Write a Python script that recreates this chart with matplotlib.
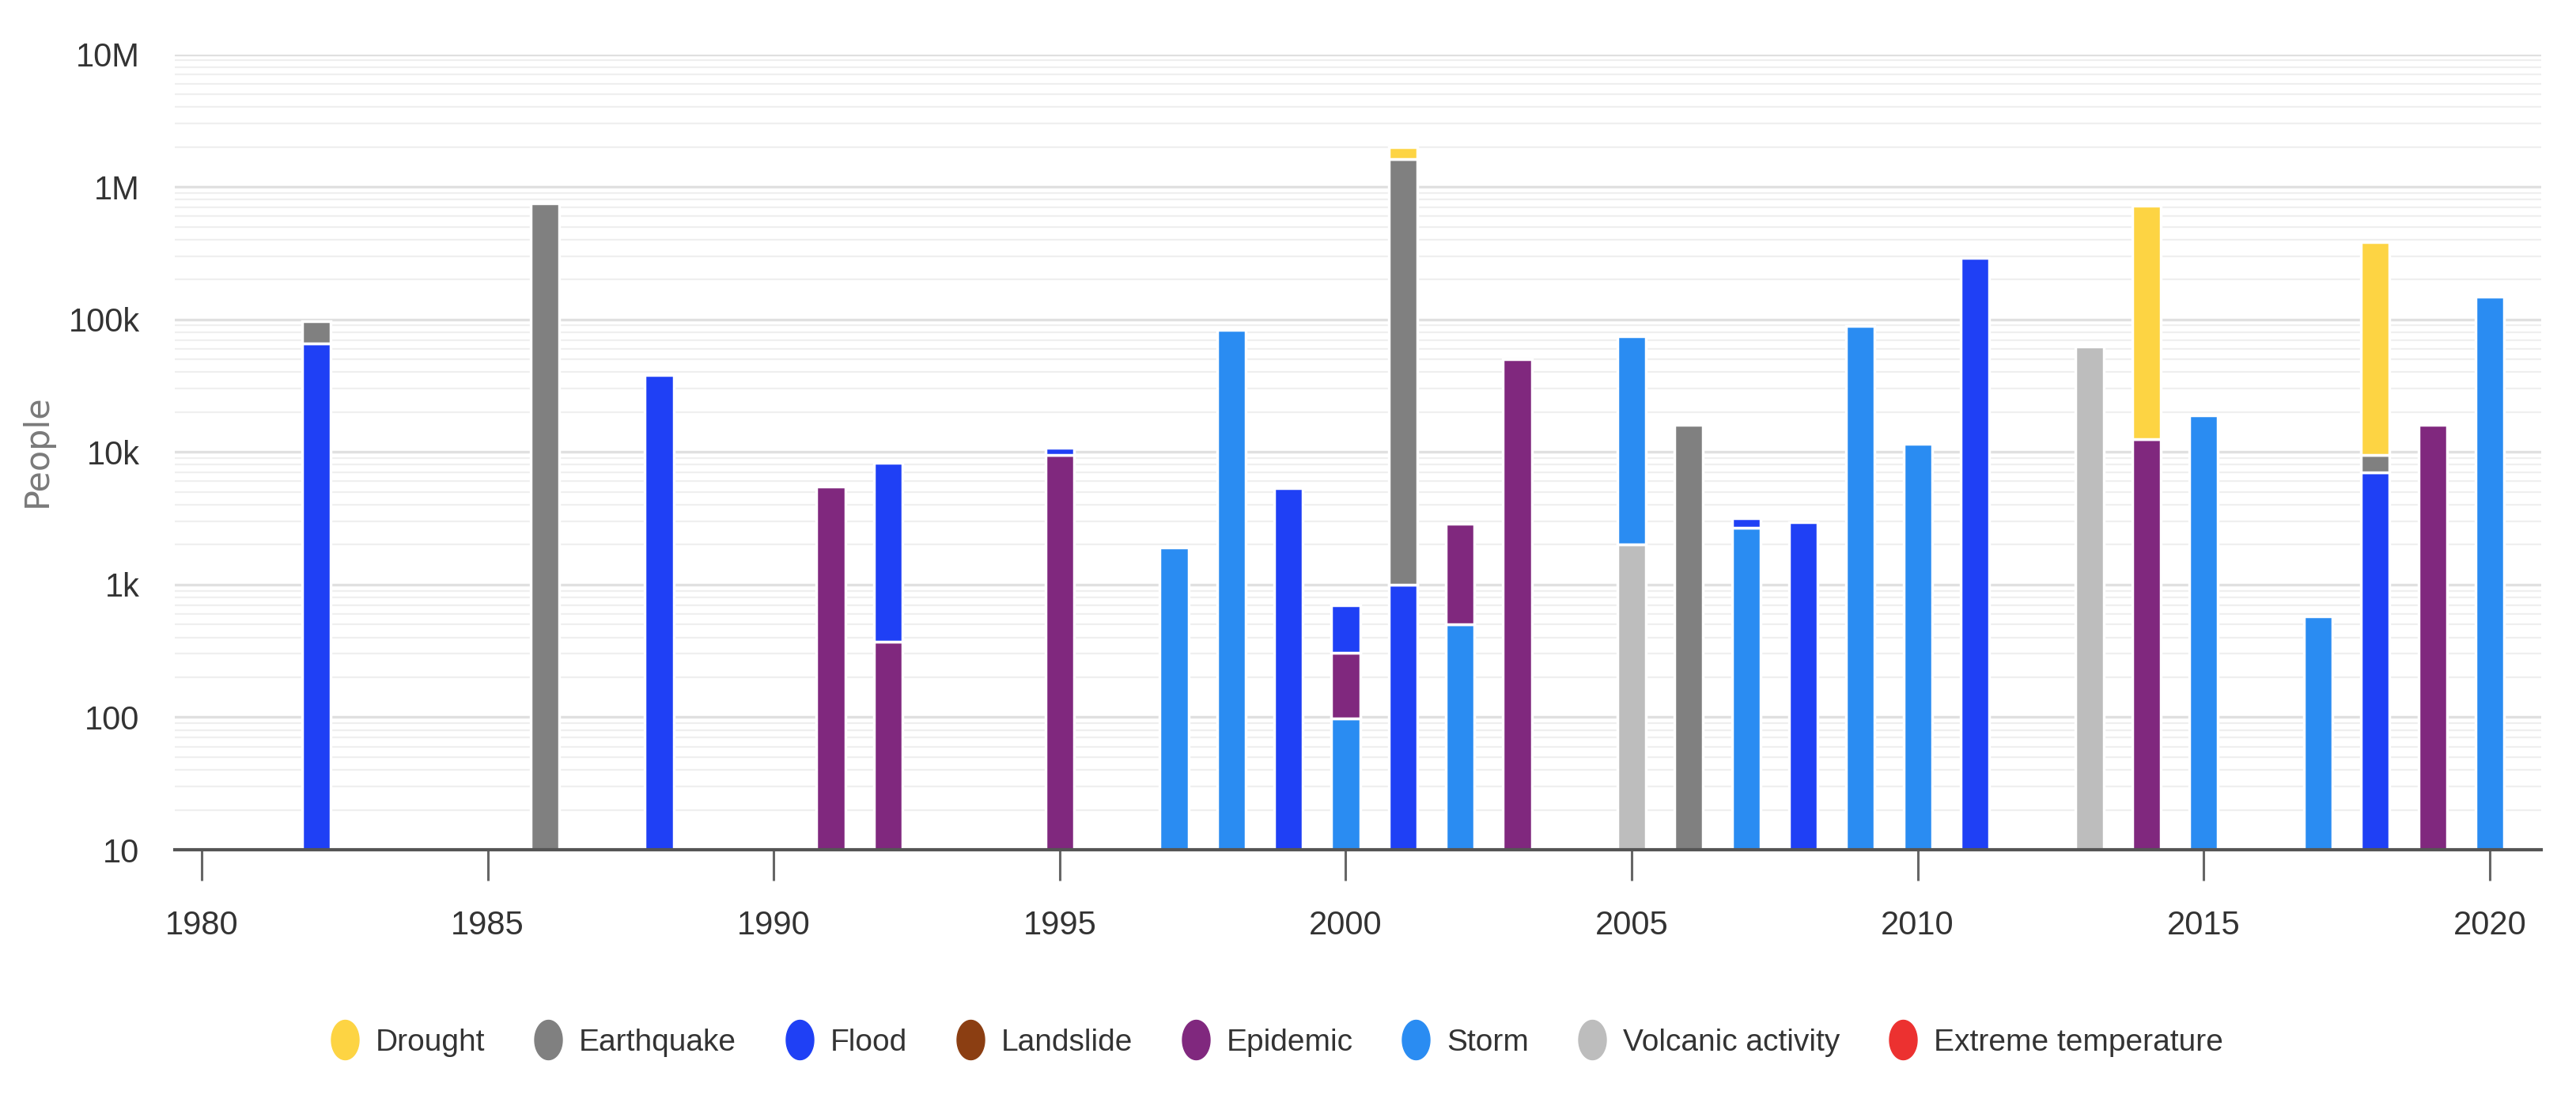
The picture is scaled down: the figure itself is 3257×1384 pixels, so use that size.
import numpy as np
import matplotlib
matplotlib.use("Agg")
import matplotlib.pyplot as plt
from matplotlib.path import Path
from matplotlib.lines import Line2D
from matplotlib.ticker import FixedLocator, FixedFormatter, LogLocator, NullFormatter

plt.rcParams['font.family'] = ['Liberation Sans Narrow', 'Liberation Sans', 'DejaVu Sans']

years = [1982, 1986, 1988, 1991, 1992, 1995, 1997, 1998, 1999, 2000, 2001, 2002, 2003,
         2005, 2006, 2007, 2008, 2009, 2010, 2011, 2013, 2014, 2015, 2017, 2018, 2019, 2020]

# legend order
categories = ["Drought", "Earthquake", "Flood", "Landslide", "Epidemic", "Storm",
              "Volcanic activity", "Extreme temperature"]
colors = ["#FDD443", "#808080", "#1F40F5", "#8B3E12", "#80287E", "#2A8CF2", "#BDBDBD", "#EC3130"]

drought = {2001: 360000, 2014: 710000, 2018: 372000}
earthquake = {1982: 31000, 1986: 750000, 2001: 1620000, 2006: 16000, 2018: 2500}
flood = {1982: 66000, 1988: 38000, 1992: 7900, 1995: 1200, 1999: 5300, 2000: 395,
         2001: 1000, 2007: 450, 2008: 2950, 2011: 290000, 2018: 7000}
landslide = {}
epidemic = {1991: 5500, 1992: 370, 1995: 9500, 2000: 207, 2002: 2370, 2003: 50000,
            2014: 12500, 2019: 16000}
storm = {1997: 1900, 1998: 83000, 2000: 98, 2002: 505, 2005: 73000, 2007: 2700,
         2009: 89000, 2010: 11500, 2015: 19000, 2017: 575, 2020: 148000}
volcanic = {2005: 2000, 2013: 62000}
extreme_temp = {}

series = [drought, earthquake, flood, landslide, epidemic, storm, volcanic, extreme_temp]

y_ticks = [10, 100, 1000, 10000, 100000, 1000000, 10000000]
y_labels = ["10", "100", "1k", "10k", "100k", "1M", "10M"]
x_ticks = [1980, 1985, 1990, 1995, 2000, 2005, 2010, 2015, 2020]

W, H = 3257, 1384
fig = plt.figure(figsize=(W / 100, H / 100), dpi=100)
ax = fig.add_axes([221 / W, 1 - 1074 / H, (3213 - 221) / W, (1074 - 68.5) / H])

x = np.array(years, dtype=float)
bottom = np.zeros(len(years))
# stacking order bottom -> top is reverse of legend order
for cat, col, data in reversed(list(zip(categories, colors, series))):
    vals = np.array([data.get(yr, 0) for yr in years], dtype=float)
    if vals.sum() == 0:
        continue
    mask = vals > 0
    ax.bar(x[mask], vals[mask], width=0.5, bottom=bottom[mask], color=col,
           edgecolor="white", linewidth=2.5, zorder=3)
    bottom = bottom + vals

ax.set_yscale("log")
ax.set_ylim(10, 1e7)
ax.set_xlim(1979.53, 2020.9)

ax.yaxis.set_major_locator(FixedLocator(y_ticks))
ax.yaxis.set_major_formatter(FixedFormatter(y_labels))
ax.yaxis.set_minor_locator(LogLocator(base=10, subs=np.arange(2, 10)))
ax.yaxis.set_minor_formatter(NullFormatter())
ax.grid(True, which="major", axis="y", color="#e0e0e0", linewidth=2.4, zorder=0)
ax.grid(True, which="minor", axis="y", color="#efefef", linewidth=1.6, zorder=0)
ax.set_axisbelow(True)

ax.set_xticks(x_ticks)
ax.set_xticklabels([str(t) for t in x_ticks])

for s in ["top", "right", "left"]:
    ax.spines[s].set_visible(False)
ax.spines["bottom"].set_color("#555555")
ax.spines["bottom"].set_linewidth(3)
ax.spines["bottom"].set_zorder(4)

ax.tick_params(axis="y", which="both", length=0, pad=32, labelsize=30, labelcolor="#333333")
ax.tick_params(axis="x", which="major", length=28, width=2.2, color="#666666",
               pad=27, labelsize=30, labelcolor="#333333")

fig.text(47 / W, 1 - 570 / H, "People", rotation=90, ha="center", va="center",
         fontsize=31, color="#7a7a7a", family=["DejaVu Sans"])

# oval legend markers
theta = np.linspace(0, 2 * np.pi, 60)
oval = Path(np.column_stack([0.7 * np.cos(theta), np.sin(theta)]), closed=True)
handles = [Line2D([], [], linestyle="none", marker=oval, markersize=36,
                  markerfacecolor=c, markeredgecolor=c) for c in colors]
leg = fig.legend(handles, categories, ncol=8, loc="center",
                 bbox_to_anchor=((433 + 2796) / 2 / W, 1 - 1318 / H),
                 frameon=False, fontsize=28, handlelength=0.9, handletextpad=0.55,
                 columnspacing=1.6, labelcolor="#333333")

fig.savefig("out.png", dpi=100)
